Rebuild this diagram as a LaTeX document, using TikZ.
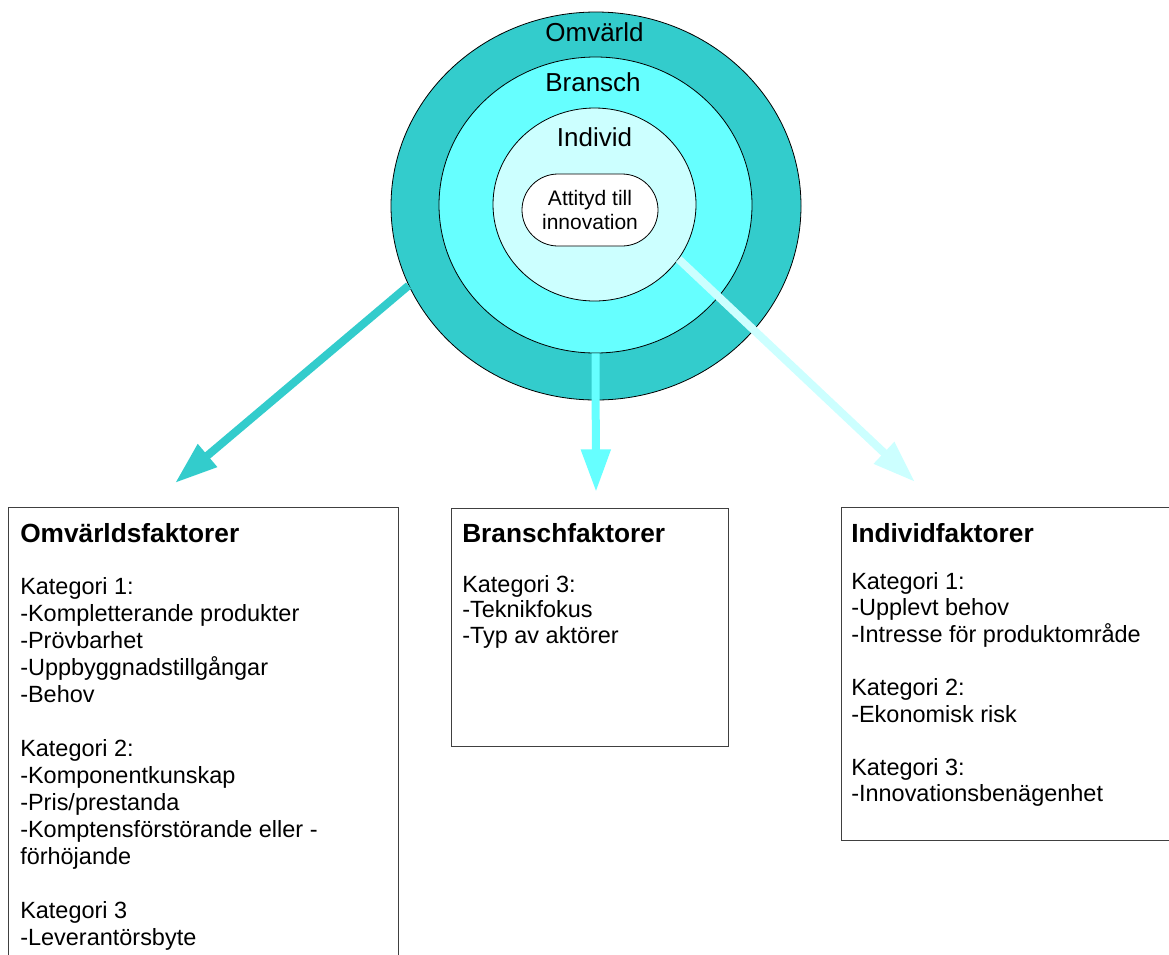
\documentclass[tikz,border=0pt]{standalone}
\usepackage{fontspec}
\setmainfont{Liberation Sans}
\usetikzlibrary{arrows.meta,shapes.geometric,shapes.misc}

\definecolor{ringOuter}{HTML}{33CCCC}
\definecolor{ringMid}{HTML}{66FFFF}
\definecolor{ringInner}{HTML}{CCFFFF}

\begin{document}
\begin{tikzpicture}[x=0.75pt,y=-0.75pt,
  ring/.style={ellipse, draw=black, line width=0.6pt, inner sep=0pt},
  factorbox/.style={rectangle, draw=black!75, line width=0.75pt, fill=white,
    anchor=north west, inner sep=0pt},
  flow/.style={line width=6pt, -{Triangle[length=32pt,width=21pt]}},
  ringlabel/.style={anchor=base, inner sep=0pt, font=\fontsize{19.5}{23}\selectfont},
  boxtitle/.style={anchor=base west, inner sep=0pt, font=\fontsize{19.7}{23}\bfseries},
  boxbody/.style={anchor=base west, inner sep=0pt, font=\fontsize{17.6}{#1}\selectfont},
  boxbody/.default=20.25pt,
]
\useasboundingbox (0,0) rectangle (1169,954);
\clip (0,0) rectangle (1169,954);

% nested levels
\node[ring, fill=ringOuter, minimum width=307.5pt, minimum height=291pt] (outer) at (596,206) {};
\node[ring, fill=ringMid, minimum width=234.75pt, minimum height=222pt] (mid) at (595.5,205) {};
\node[ring, fill=ringInner, minimum width=152.25pt, minimum height=144.75pt] (inner) at (594.5,204.5) {};

% factor boxes
\node[factorbox, minimum width=292.5pt, minimum height=375pt] (omvBox) at (8,507) {};
\node[factorbox, minimum width=207.75pt, minimum height=178.5pt] (branschBox) at (451,508) {};
\node[factorbox, minimum width=262.5pt, minimum height=249.75pt] (indBox) at (841,507) {};

% arrow end points
\coordinate (omvTip) at (175,483);
\coordinate (branschTip) at (596,492);
\coordinate (indTip) at (915,482);

\draw[flow, ringOuter] (outer.203.9) -- (omvTip);
\draw[flow, ringMid] (mid.south) -- (branschTip);
\draw[flow, ringInner] (inner.327) -- (indTip);

% core
\node[rounded rectangle, draw=black, line width=0.6pt, fill=white,
  minimum width=102pt, minimum height=54pt, inner sep=0pt, align=center,
  font=\fontsize{15.75}{17.8}\selectfont] (core) at (590,210) {Attityd till\\innovation};

% level labels
\node[ringlabel] (lblOmv) at (594.5,41.7) {Omvärld};
\node[ringlabel] (lblBransch) at (593,91.7) {Bransch};
\node[ringlabel] (lblInd) at (594.5,146.7) {Individ};

% box contents
\node[boxtitle] (omvTitle) at (20,542) {Omvärldsfaktorer};
\node[boxbody] (omvBody) at (20,594) {\begin{tabular}[t]{@{}l@{}}
Kategori 1:\\
-Kompletterande produkter\\
-Prövbarhet\\
-Uppbyggnadstillgångar\\
-Behov\\
\\
Kategori 2:\\
-Komponentkunskap\\
-Pris/prestanda\\
-Komptensförstörande eller -\\
förhöjande\\
\\
Kategori 3\\
-Leverantörsbyte
\end{tabular}};

\node[boxtitle] (branschTitle) at (462,542) {Branschfaktorer};
\node[boxbody=19.3pt] (branschBody) at (462,592) {\begin{tabular}[t]{@{}l@{}}
Kategori 3:\\
-Teknikfokus\\
-Typ av aktörer
\end{tabular}};

\node[boxtitle] (indTitle) at (851,542) {Individfaktorer};
\node[boxbody=19.9pt] (indBody) at (851,589) {\begin{tabular}[t]{@{}l@{}}
Kategori 1:\\
-Upplevt behov\\
-Intresse för produktområde\\
\\
Kategori 2:\\
-Ekonomisk risk\\
\\
Kategori 3:\\
-Innovationsbenägenhet
\end{tabular}};
\end{tikzpicture}
\end{document}
